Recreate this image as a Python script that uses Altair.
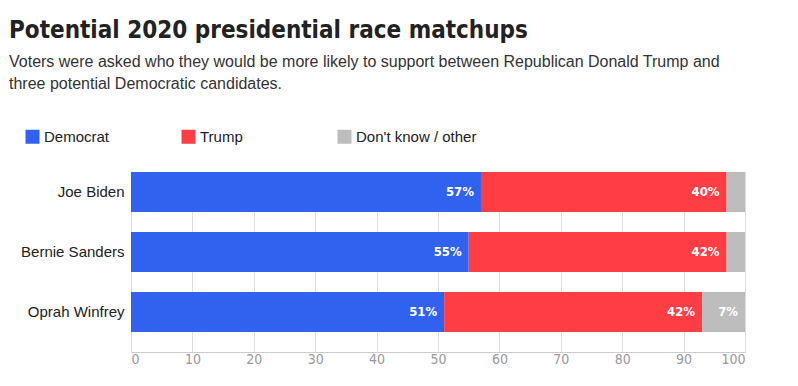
import altair as alt
import pandas as pd

candidates = ["Joe Biden", "Bernie Sanders", "Oprah Winfrey"]
democrat = [57, 55, 51]
trump = [40, 42, 42]
other = [3, 3, 7]
groups = ["Democrat", "Trump", "Don't know / other"]
colors = ["#3162ef", "#fe3d44", "#bdbdbd"]
x_ticks = [0, 10, 20, 30, 40, 50, 60, 70, 80, 90, 100]

COND = "'DejaVu Sans Condensed', 'Liberation Sans Narrow', Roboto, sans-serif"

rows = []
for i, c in enumerate(candidates):
    for k, (g, vals) in enumerate(zip(groups, [democrat, trump, other])):
        rows.append({"candidate": c, "group": g, "value": vals[i], "order": k})
df = pd.DataFrame(rows)

base = alt.Chart(df).transform_stack(
    stack="value", groupby=["candidate"], as_=["x0", "x1"],
    sort=[alt.SortField("order", order="ascending")]
)

y_enc = alt.Y(
    "candidate:N", sort=candidates,
    scale=alt.Scale(paddingInner=1/3, paddingOuter=1/6, align=0),
    axis=alt.Axis(title=None, ticks=False, domain=False, labelFontSize=15,
                  labelColor="#222222", labelPadding=7, labelFont="Liberation Sans"),
)

bars = base.mark_bar().encode(
    y=y_enc,
    x=alt.X("x0:Q", scale=alt.Scale(domain=[0, 100], nice=False),
            axis=alt.Axis(values=x_ticks, title=None, grid=True, gridColor="#dcdcdc",
                          ticks=False, domainColor="#cccccc", labelColor="#999999",
                          labelFontSize=14, labelFont=COND,
                          labelPadding=0)),
    x2="x1:Q",
    color=alt.Color("group:N", scale=alt.Scale(domain=groups, range=colors),
                    legend=alt.Legend(orient="none", legendX=-106, legendY=-43,
                                      direction="horizontal", columns=3, title=None,
                                      symbolType="square", symbolSize=196,
                                      symbolStrokeWidth=0, symbolOpacity=1,
                                      labelFontSize=15, labelColor="#222222",
                                      labelFont="Liberation Sans", labelOffset=4,
                                      gridAlign="all", columnPadding=16)),
    order=alt.Order("order:Q"),
)

labels = base.transform_filter("datum.value >= 5").transform_calculate(
    label="datum.value + '%'"
).mark_text(align="right", baseline="middle", dx=-7, color="white", fontSize=13,
            font=COND, fontWeight="bold").encode(
    y=alt.Y("candidate:N", sort=candidates),
    x="x1:Q",
    text="label:N",
)

chart = alt.layer(bars, labels).properties(
    width=614, height=180,
    padding={"left": 123, "top": 164, "right": 45, "bottom": 30},
    autosize=alt.AutoSizeParams(type="none"),
    title=alt.Title(
        "Potential 2020 presidential race matchups",
        subtitle=["Voters were asked who they would be more likely to support between Republican Donald Trump and",
                  "three potential Democratic candidates."],
        anchor="start", frame="group", dx=-122, fontSize=24, font=COND,
        fontWeight="bold", color="#222222", subtitleFontSize=16,
        subtitleColor="#333333", subtitleFont="Liberation Sans",
        subtitleLineHeight=22, subtitlePadding=11, offset=37,
    ),
).configure_view(stroke=None).configure(background="white")

chart.save("out.html", embed_options={"renderer": "svg", "actions": False})
